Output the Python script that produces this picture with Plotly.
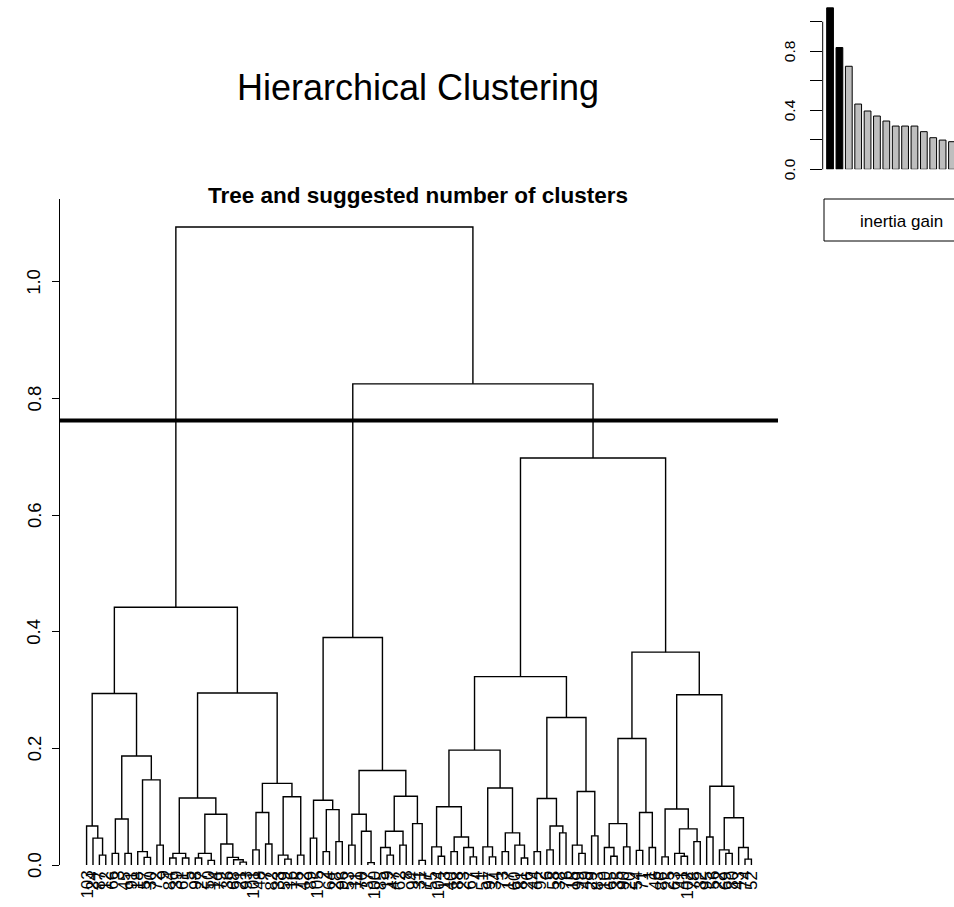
import plotly.graph_objects as go

W, H = 954, 907
FONT = "Liberation Sans, Arial, sans-serif"

# ---------------- data ----------------
# dendrogram subtrees: (merge height, left, right); L = leaf
L = "L"
A1 = (0.294, (0.067, L, (0.046, L, (0.017, L, L))),
             (0.187, (0.079, (0.020, L, L), (0.020, L, L)),
                     (0.146, (0.023, L, (0.013, L, L)), (0.034, L, L))))
A2 = (0.295, (0.115, (0.020, (0.012, L, L), (0.012, L, L)),
                     (0.087, (0.020, (0.012, L, L), (0.008, L, L)),
                             (0.036, L, (0.013, L, (0.009, L, (0.005, L, L)))))),
             (0.140, (0.090, (0.026, L, L), (0.036, L, L)),
                     (0.117, (0.017, L, (0.010, L, L)), (0.017, L, L))))
B = (0.390, (0.111, (0.046, L, L), (0.095, (0.023, L, L), (0.040, L, L))),
            (0.162, (0.087, (0.034, L, L), (0.058, L, (0.004, L, L))),
                    (0.118, (0.058, (0.030, L, (0.017, L, L)), (0.034, L, L)),
                            (0.071, L, (0.008, L, L)))))
C1 = (0.323, (0.197, (0.100, (0.031, L, (0.015, L, L)),
                             (0.048, (0.023, L, L), (0.030, L, (0.014, L, L)))),
                     (0.132, (0.031, L, (0.014, L, L)),
                             (0.055, (0.023, L, L), (0.034, L, (0.012, L, L))))),
             (0.253, (0.114, (0.023, L, L), (0.067, (0.026, L, L), (0.055, L, L))),
                     (0.126, (0.034, L, (0.020, L, L)), (0.050, L, L))))
C2 = (0.365, (0.217, (0.071, (0.030, L, (0.015, L, L)), (0.031, L, L)),
                     (0.090, (0.025, L, L), (0.030, L, L))),
             (0.292, (0.096, (0.014, L, L),
                             (0.062, (0.020, L, (0.015, L, L)), (0.040, L, L))),
                     (0.135, (0.048, L, L),
                             (0.081, (0.026, L, (0.020, L, L)), (0.030, L, (0.010, L, L))))))
h_A, h_C, h_BC, h_root = 0.442, 0.698, 0.825, 1.094
tree = (h_root, (h_A, A1, A2), (h_BC, B, (h_C, C1, C2)))

leaf_labels = [103,
    24, 87, 12, 66, 3, 45, 91, 18, 57, 30, 72, 9, 84, 39, 61, 5, 98, 27, 50, 14, 79, 36, 68, 21, 93,
    101,
    48, 7, 82, 33, 59, 16, 75, 42, 89,
    105,
    2, 64, 28, 96, 53, 11, 70, 37,
    100,
    85, 19, 47, 62, 8, 94, 31, 77, 55,
    104,
    13, 40, 88, 23, 67, 4, 51, 97, 34, 73, 17, 60, 81, 26, 44, 92, 6, 58, 38, 76, 15, 99, 49,
    29, 83, 10, 65, 35, 90, 20, 54, 71, 1, 46, 86, 25, 63, 41,
    102,
    78, 32, 95, 56, 22, 69, 80, 43, 74, 52]

cut_height = 0.762
main_ticks = [0.0, 0.2, 0.4, 0.6, 0.8, 1.0]
main_tick_text = ["0.0", "0.2", "0.4", "0.6", "0.8", "1.0"]

inertia_gain = [1.094, 0.825, 0.698, 0.442, 0.395, 0.361, 0.327, 0.293, 0.293, 0.293,
                0.255, 0.214, 0.198, 0.187, 0.162]
n_clusters = 3
inset_ticks = [0.0, 0.2, 0.4, 0.6, 0.8, 1.0]
inset_tick_text = ["0.0", "", "0.4", "", "0.8", ""]

# ---------------- build dendrogram segments ----------------
xs, ys = [], []
counter = [0]


def walk(node):
    if node == L:
        counter[0] += 1
        return float(counter[0]), 0.0
    h, left, right = node
    xl, hl = walk(left)
    xr, hr = walk(right)
    xs.extend([xl, xl, xr, xr, None])
    ys.extend([hl, h, h, hr, None])
    return (xl + xr) / 2.0, h


walk(tree)
n_leaves = counter[0]

fig = go.Figure()
fig.add_trace(go.Scatter(x=xs, y=ys, mode="lines", line=dict(color="black", width=1.4),
                         hoverinfo="skip", xaxis="x", yaxis="y"))

bar_x = list(range(1, len(inertia_gain) + 1))
bar_colors = ["black" if i < n_clusters - 1 else "#BEBEBE" for i in range(len(inertia_gain))]
fig.add_trace(go.Bar(x=bar_x, y=inertia_gain, width=0.72, marker=dict(color=bar_colors,
                     line=dict(color="black", width=1)),
                     hoverinfo="skip", xaxis="x2", yaxis="y2"))

ext = (n_leaves - 1) * 0.04
annotations = []
# titles
annotations.append(dict(text="Hierarchical Clustering", x=418 / W, y=1 - 88 / H, xref="paper", yref="paper",
                        showarrow=False, font=dict(family=FONT, size=36, color="black"),
                        xanchor="center", yanchor="middle"))
annotations.append(dict(text="<b>Tree and suggested number of clusters</b>", x=418 / W, y=1 - 195 / H,
                        xref="paper", yref="paper", showarrow=False,
                        font=dict(family=FONT, size=22.5, color="black"), xanchor="center", yanchor="middle"))
# main y tick labels
for v, t in zip(main_ticks, main_tick_text):
    annotations.append(dict(text=t, x=34 / W, y=v, xref="paper", yref="y", textangle=-90, showarrow=False,
                            font=dict(family=FONT, size=18.5, color="black"), xanchor="center", yanchor="middle"))
# leaf labels
for i, lab in enumerate(leaf_labels):
    annotations.append(dict(text=str(lab), x=i + 1, y=1 - 870 / H, xref="x", yref="paper", textangle=-90,
                            showarrow=False, font=dict(family=FONT, size=17, color="black"),
                            xanchor="center", yanchor="top", borderpad=0))
# inset tick labels
for v, t in zip(inset_ticks, inset_tick_text):
    if t:
        annotations.append(dict(text=t, x=789 / W, y=v, xref="paper", yref="y2", textangle=-90,
                                showarrow=False, font=dict(family=FONT, size=15.5, color="black"),
                                xanchor="center", yanchor="middle"))
annotations.append(dict(text="inertia gain", x=901 / W, y=1 - 221 / H, xref="paper", yref="paper",
                        showarrow=False, font=dict(family=FONT, size=17, color="black"),
                        xanchor="center", yanchor="middle"))

inset_bottom_px, inset_px_per_unit = 169.3, 147.6
shapes = [
    dict(type="line", xref="x domain", yref="y", x0=0, x1=1, y0=cut_height, y1=cut_height,
         line=dict(color="black", width=4)),
    dict(type="rect", xref="paper", yref="paper", x0=824 / W, x1=1.02, y0=1 - 241 / H, y1=1 - 199 / H,
         line=dict(color="black", width=1)),
    # inset y-axis line (spans the tick range 0 .. 1.0)
    dict(type="line", xref="paper", yref="paper", x0=822.7 / W, x1=822.7 / W,
         y0=1 - inset_bottom_px / H, y1=1 - (inset_bottom_px - inset_px_per_unit * inset_ticks[-1]) / H,
         line=dict(color="black", width=1)),
]

fig.update_layout(
    width=W, height=H, margin=dict(l=0, r=0, t=0, b=0),
    paper_bgcolor="white", plot_bgcolor="white", showlegend=False,
    font=dict(family=FONT, color="black"),
    xaxis=dict(domain=[60 / W, 778 / W], range=[1 - ext, n_leaves + ext], visible=False),
    yaxis=dict(domain=[1 - 865 / H, 1 - 199 / H], range=[0, 1.142], showline=True, linecolor="black",
               linewidth=1, ticks="outside", ticklen=7, tickcolor="black", tickwidth=1,
               tickvals=main_ticks, showticklabels=False, showgrid=False, zeroline=False),
    xaxis2=dict(domain=[822.7 / W, 1.0], range=[0.216, 14.216], visible=False, anchor="y2"),
    yaxis2=dict(domain=[1 - inset_bottom_px / H, 1.0], range=[0, inset_bottom_px / inset_px_per_unit],
                anchor="x2", showline=False, ticks="outside", ticklen=12, tickcolor="black",
                tickvals=inset_ticks, showticklabels=False, showgrid=False, zeroline=False),
    annotations=annotations, shapes=shapes,
)

fig.write_html("out.html", config={"displayModeBar": False},
               post_script="document.body.style.margin='0px';document.body.style.overflow='hidden';")
